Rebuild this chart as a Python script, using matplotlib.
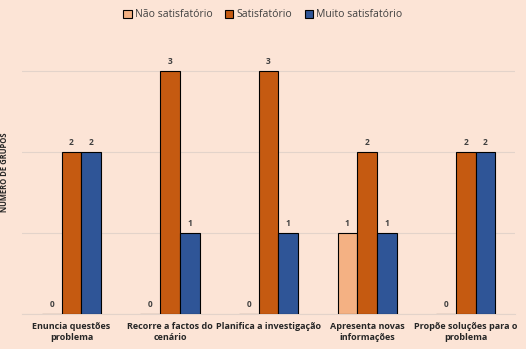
import numpy as np
import matplotlib.pyplot as plt

categorias = ["Enuncia questões\nproblema", "Recorre a factos do\ncenário",
              "Planifica a investigação", "Apresenta novas\ninformações",
              "Propõe soluções para o\nproblema"]
series = ["Não satisfatório", "Satisfatório", "Muito satisfatório"]
nao_satisf = [0, 0, 0, 1, 0]
satisf = [2, 3, 3, 2, 2]
muito_satisf = [2, 1, 1, 1, 2]

cores = ["#F4B183", "#C55A11", "#2F5597"]
fundo = "#FCE4D6"

plt.rcParams['font.family'] = ['Open Sans', 'DejaVu Sans']

fig = plt.figure(figsize=(5.26, 3.49), dpi=100, facecolor=fundo)
ax = fig.add_axes([0.042, 0.100, 0.937, 0.814], facecolor=fundo)

x = np.arange(len(categorias))
w = 0.2
for i, (vals, nome) in enumerate(zip([nao_satisf, satisf, muito_satisf], series)):
    pos = x + (i - 1) * w
    bars = ax.bar(pos, vals, w, color=cores[i], edgecolor="black", linewidth=0.8,
                  label=nome, zorder=3)
    for b, v in zip(bars, vals):
        ax.text(b.get_x() + b.get_width() / 2, v + 0.06, str(v), ha="center",
                va="bottom", fontsize=6, fontweight="bold", color="#404040")

ax.set_xlim(-0.5, len(categorias) - 0.5)
ax.set_ylim(0, 3.5)
ax.set_yticks([0, 1, 2, 3])
ax.set_yticklabels([])
ax.tick_params(axis="y", length=0)
ax.tick_params(axis="x", length=0, pad=6)
ax.set_xticks(x)
ax.set_xticklabels(categorias, fontsize=6.5, fontweight="bold", color="#262626",
                   multialignment="center")
ax.grid(axis="y", color="#E3D3CA", linewidth=0.8, zorder=0)
for s in ["top", "right", "left"]:
    ax.spines[s].set_visible(False)
ax.spines["bottom"].set_color("#E3D3CA")

ax.set_ylabel("NÚMERO DE GRUPOS", fontsize=5.5, fontweight="bold", color="#262626",
              labelpad=6)

leg = fig.legend(loc="upper center", bbox_to_anchor=(0.5, 1.0), ncol=3, frameon=False,
                 fontsize=7.5, handlelength=0.8, handleheight=0.8, columnspacing=1.2,
                 handletextpad=0.3)
for t in leg.get_texts():
    t.set_color("#404040")

fig.savefig("out.png", dpi=100, facecolor=fundo)
